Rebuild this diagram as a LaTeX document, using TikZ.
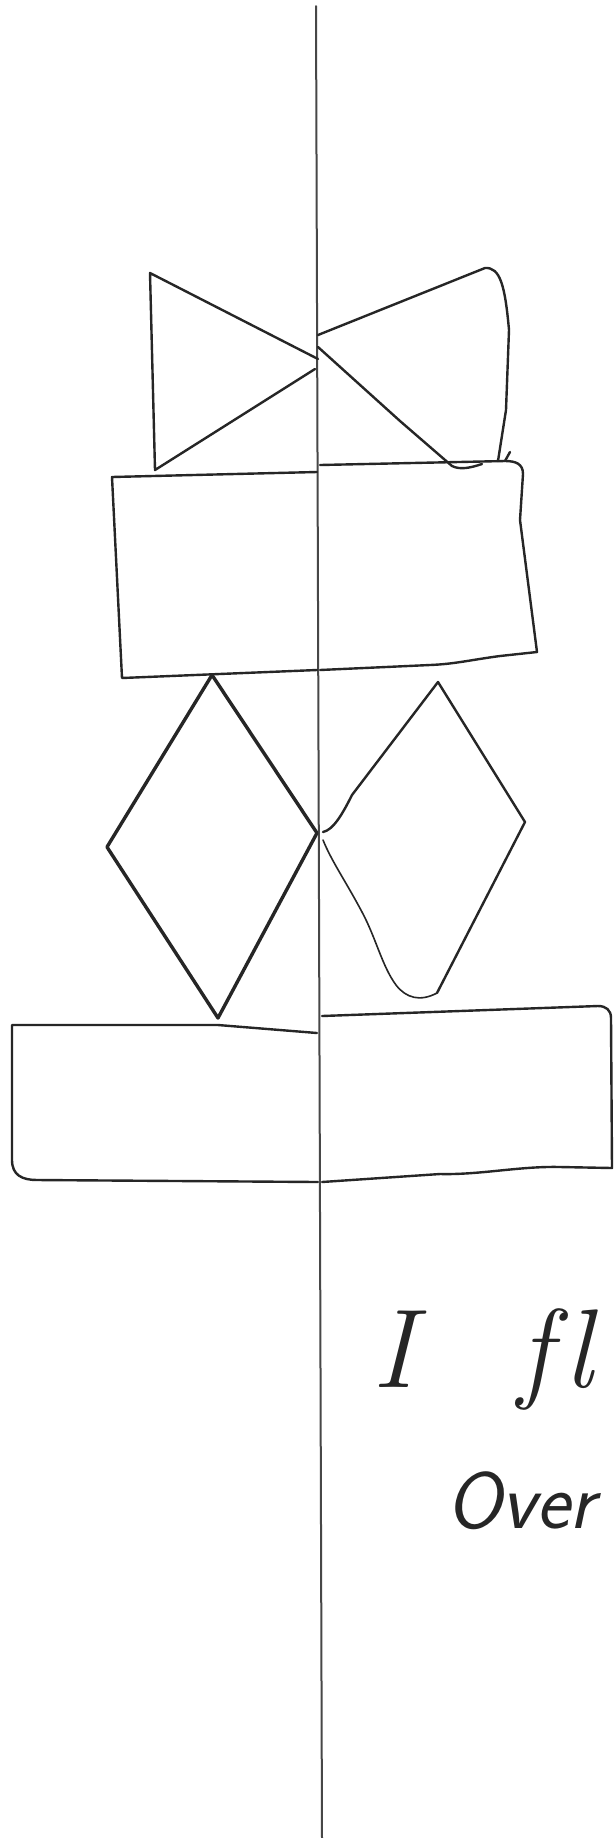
\documentclass[tikz,border=0pt]{standalone}
\usepackage{fontspec}
\definecolor{pencil}{HTML}{262626}
\begin{document}
\begin{tikzpicture}[x=0.5pt,y=-0.5pt,
  pen/.style={draw=pencil,line width=1.2pt,line join=round,line cap=round},
  thinpen/.style={pen,line width=0.8pt},
  boldpen/.style={pen,line width=1.7pt},
  scribble/.style={inner sep=0pt,text=pencil}]
\useasboundingbox (0,0) rectangle (616,1838);
\fill[white] (0,0) rectangle (616,1838);
\begin{scope}
\clip (0,0) rectangle (616,1838);
% axis line
\draw[pen,line width=1pt,draw=pencil!85] (316,6) -- (319,900) -- (322,1838);
% top left triangle
\draw[pen] (318,359) -- (150,273) -- (155,470) -- (315,369);
% top right shape
\draw[pen] (318,335) -- (485,268) .. controls (500,267) and (505,285) .. (509,330)
  -- (506,410) -- (498,461);
\draw[pen] (318,347) -- (400,421) -- (452,466) .. controls (460,470) and (470,468) .. (482,464);
% upper rectangle, left half
\draw[pen] (317,472) -- (112,477) -- (122,678) -- (317,670);
% upper rectangle, right half
\draw[pen] (320,465) -- (505,461) .. controls (516,461) and (523,464) .. (523,474)
  -- (520,520) -- (537,652) -- (500,656) .. controls (470,660) and (455,664) .. (430,665) -- (320,670);
\draw[pen] (505,461) -- (510,452);
% left diamond
\draw[boldpen] (212,675) -- (107,847) -- (218,1018) -- (317,833) -- cycle;
% right diamond
\draw[pen] (323,832) .. controls (333,830) and (342,815) .. (352,795) -- (438,682) -- (525,822)
  -- (437,993);
\draw[thinpen] (323,840) .. controls (332,862) and (345,880) .. (362,912)
  .. controls (376,938) and (382,966) .. (396,985)
  .. controls (406,998) and (420,1002) .. (437,993);
% lower rectangle, left half
\draw[pen] (317,1033) -- (218,1025) -- (12,1025) -- (12,1160)
  .. controls (12,1175) and (22,1180) .. (37,1180) -- (318,1182);
% lower rectangle, right half
\draw[pen] (322,1016) -- (598,1006) .. controls (606,1006) and (611,1010) .. (611,1018)
  -- (612,1168) -- (560,1167) .. controls (520,1166) and (480,1175) .. (440,1174) -- (322,1182);
% handwriting
\node[scribble,anchor=base west,font=\fontsize{56}{60}\selectfont\itshape] (t1) at (372,1387) {I\hspace{52pt}f\kern6pt l};
\node[scribble,anchor=base west,font=\fontsize{40}{44}\selectfont\sffamily\slshape] (t2) at (446,1528) {Over};
\end{scope}
\end{tikzpicture}
\end{document}
